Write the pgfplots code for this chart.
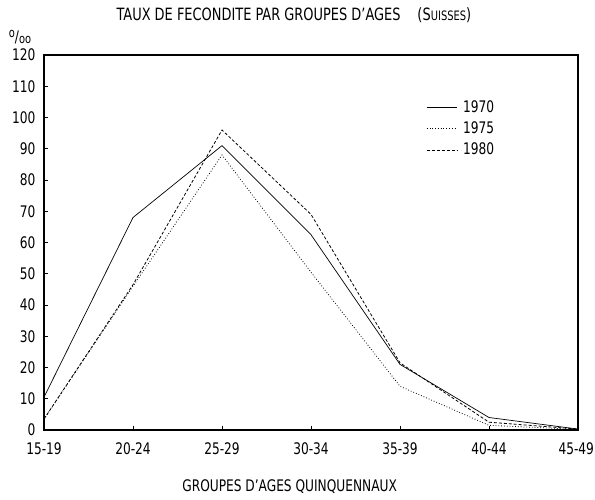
\documentclass[border=0pt]{standalone}
\usepackage{pgfplots}
\pgfplotsset{compat=1.18}
\usepackage{fontspec}
\setmainfont{DejaVu Sans Condensed}[FakeStretch=0.85]

\begin{document}
\fontsize{16}{19}\selectfont
\begin{tikzpicture}
    \begin{axis}[
            scale only axis,
            width=534bp, height=375bp,
            xmin=0, xmax=6,
            ymin=0, ymax=120,
            xtick={0,1,...,6},
            xticklabels={15-19,20-24,25-29,30-34,35-39,40-44,\llap{45-49\hspace{-16bp}}},
            ytick={0,10,...,120},
            tick align=inside,
            xtick pos=bottom, ytick pos=left,
            major tick length=4bp,
            axis line style={line width=1.2pt},
            tick style={line width=0.8pt, black},
            x tick label style={yshift=-7bp},
            y tick label style={xshift=-3bp},
            /pgf/number format/assume math mode=true,
            clip=false,
            legend style={at={(0.71,0.89)}, anchor=north west, draw=none, fill=none,
                row sep=3pt, font=\fontsize{16}{19}\selectfont,
                nodes={inner xsep=6bp}},
            legend cell align=left,
            legend image code/.code={\draw[#1] (0bp,0bp) -- (30bp,0bp);},
        ]
        % taux pour mille
        \addplot[black, line width=0.7pt] coordinates {
                (0, 10.5) (1, 68) (2, 91) (3, 62.5) (4, 21) (5, 4) (6, 0.3)
            };
        \addlegendentry{1970}
        \addplot[black, line width=0.8pt, dotted] coordinates {
                (0, 3.5) (1, 46) (2, 88) (3, 50.5) (4, 14) (5, 1.5) (6, 0.2)
            };
        \addlegendentry{1975}
        \addplot[black, line width=0.8pt, dash pattern=on 3pt off 2pt] coordinates {
                (0, 3.5) (1, 46.5) (2, 96) (3, 69) (4, 21.5) (5, 2.5) (6, 0.3)
            };
        \addlegendentry{1980}

        \node at (rel axis cs:0.468,1) [yshift=40bp] {\fontsize{17}{20}\selectfont TAUX DE FECONDITE PAR GROUPES D'AGES\hspace{1em}(S{\fontsize{13}{15}\selectfont UISSES})};
        \node at (rel axis cs:0,1) [xshift=-24bp, yshift=18bp]
            {\raisebox{5bp}{\fontsize{13}{13}\selectfont o}/\raisebox{-1bp}{\fontsize{13}{13}\selectfont oo}};
        \node at (rel axis cs:0.46,0) [yshift=-57bp] {GROUPES D'AGES QUINQUENNAUX};
        \path (rel axis cs:0,0) +(-44bp,-65bp) (rel axis cs:1,1) +(17bp,55bp);
    \end{axis}
\end{tikzpicture}
\end{document}
